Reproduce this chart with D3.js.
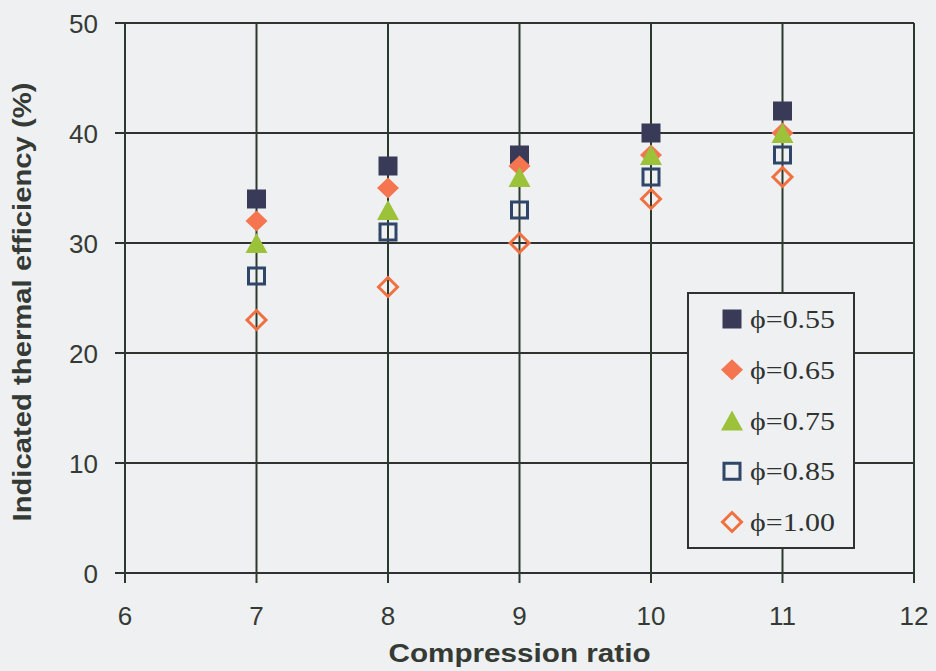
<!DOCTYPE html>
<html>
<head>
<meta charset="utf-8">
<script src="https://cdn.jsdelivr.net/npm/d3@7"></script>
<style>
  html, body { margin: 0; padding: 0; background: #eef0f2; }
  svg { display: block; }
</style>
</head>
<body>
<svg id="chart" width="936" height="671"></svg>
<script>
// Compression ratios at which efficiency was measured
const ratios = [7, 8, 9, 10, 11];

// Indicated thermal efficiency (%) per equivalence ratio
const phi055 = [34, 37, 38, 40, 42];
const phi065 = [32, 35, 37, 38, 40];
const phi075 = [30, 33, 36, 38, 40];
const phi085 = [27, 31, 33, 36, 38];
const phi100 = [23, 26, 30, 34, 36];

const seriesLabels = ["\u03D5=0.55", "\u03D5=0.65", "\u03D5=0.75", "\u03D5=0.85", "\u03D5=1.00"];
const xTicks = [6, 7, 8, 9, 10, 11, 12];
const yTicks = [0, 10, 20, 30, 40, 50];

const series = [
  { label: seriesLabels[0], values: phi055, shape: "square",   fill: "#383a58", stroke: "none" },
  { label: seriesLabels[1], values: phi065, shape: "diamond",  fill: "#f4754f", stroke: "none" },
  { label: seriesLabels[2], values: phi075, shape: "triangle", fill: "#9cc23a", stroke: "none" },
  { label: seriesLabels[3], values: phi085, shape: "square",   fill: "none",    stroke: "#2f4668" },
  { label: seriesLabels[4], values: phi100, shape: "diamond",  fill: "none",    stroke: "#f0713f" }
];

const W = 936, H = 671;
const margin = { top: 23, right: 22, bottom: 98, left: 125 };
const svg = d3.select("#chart");

const x = d3.scaleLinear().domain([6, 12]).range([margin.left, W - margin.right]);
const y = d3.scaleLinear().domain([0, 50]).range([H - margin.bottom, margin.top]);

// marker path centred at the origin
function markerPath(shape, filled) {
  if (shape === "square") {
    const h = filled ? 9.5 : 8;
    return `M${-h},${-h}H${h}V${h}H${-h}Z`;
  }
  if (shape === "diamond") {
    const w = filled ? 11 : 9.5, v = filled ? 10.5 : 9.5;
    return `M0,${-v}L${w},0L0,${v}L${-w},0Z`;
  }
  // triangle, centred on its bounding box
  return "M0,-10L11,10L-11,10Z";
}

// gridlines
const grid = svg.append("g");
grid.selectAll("line.h").data(yTicks).join("line")
  .attr("x1", x(6) - 10).attr("x2", x(12))
  .attr("y1", d => y(d)).attr("y2", d => y(d))
  .attr("stroke", "#303232").attr("stroke-width", 2);
grid.selectAll("line.v").data(xTicks).join("line")
  .attr("x1", d => x(d)).attr("x2", d => x(d))
  .attr("y1", y(50)).attr("y2", y(0) + 10)
  .attr("stroke", "#2c3a2e").attr("stroke-width", 2);

// tick labels
const tickFont = "'Liberation Sans', Arial, sans-serif";
svg.append("g").selectAll("text").data(yTicks).join("text")
  .attr("x", 98).attr("y", d => y(d) + 9.5)
  .attr("text-anchor", "end")
  .attr("font-family", tickFont).attr("font-size", 26)
  .attr("fill", "#353a35")
  .text(d => d);
svg.append("g").selectAll("text").data(xTicks).join("text")
  .attr("x", d => x(d)).attr("y", 625)
  .attr("text-anchor", "middle")
  .attr("font-family", tickFont).attr("font-size", 26)
  .attr("fill", "#353a35")
  .text(d => d);

// axis titles
svg.append("text")
  .attr("x", (x(6) + x(12)) / 2).attr("y", 662)
  .attr("text-anchor", "middle")
  .attr("font-family", tickFont).attr("font-size", 26).attr("font-weight", "bold")
  .attr("fill", "#353a35")
  .attr("textLength", 262).attr("lengthAdjust", "spacingAndGlyphs")
  .text("Compression ratio");
svg.append("text")
  .attr("transform", "translate(31,302) rotate(-90)")
  .attr("text-anchor", "middle")
  .attr("font-family", tickFont).attr("font-size", 26).attr("font-weight", "bold")
  .attr("fill", "#353a35")
  .attr("textLength", 439).attr("lengthAdjust", "spacingAndGlyphs")
  .text("Indicated thermal efficiency (%)");

// data points
series.forEach(s => {
  const filled = s.fill !== "none";
  svg.append("g").selectAll("path").data(ratios.map((r, i) => [r, s.values[i]])).join("path")
    .attr("transform", d => `translate(${x(d[0])},${y(d[1])})`)
    .attr("d", markerPath(s.shape, filled))
    .attr("fill", s.fill)
    .attr("stroke", s.stroke)
    .attr("stroke-width", filled ? 0 : 3);
});

// legend
const legend = svg.append("g");
legend.append("rect")
  .attr("x", 688).attr("y", 293).attr("width", 166).attr("height", 255)
  .attr("fill", "#eef0f2").attr("stroke", "#303232").attr("stroke-width", 2);
const rowY = d3.scalePoint().domain(seriesLabels).range([319, 522]);
series.forEach(s => {
  const filled = s.fill !== "none";
  const g = legend.append("g").attr("transform", `translate(732,${rowY(s.label)})`);
  g.append("path")
    .attr("d", markerPath(s.shape, filled))
    .attr("fill", s.fill)
    .attr("stroke", s.stroke)
    .attr("stroke-width", filled ? 0 : 3);
  g.append("text")
    .attr("x", 18).attr("y", 9)
    .attr("font-family", "'Liberation Serif', 'Times New Roman', serif")
    .attr("font-size", 25)
    .attr("fill", "#2e3330")
    .attr("textLength", 85).attr("lengthAdjust", "spacingAndGlyphs")
    .text(s.label);
});
</script>
</body>
</html>
